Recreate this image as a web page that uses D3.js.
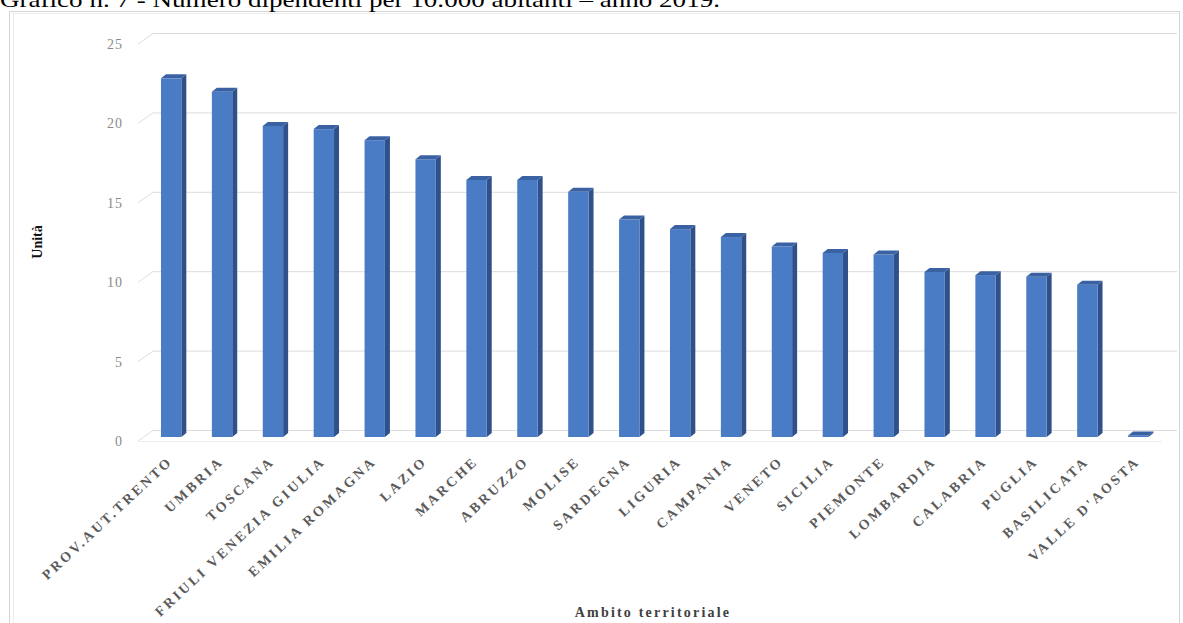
<!DOCTYPE html>
<html><head><meta charset="utf-8">
<script src="https://cdn.jsdelivr.net/npm/d3@7"></script>
<style>
html,body{margin:0;padding:0;background:#fff;}
svg{display:block;}
</style></head>
<body>
<svg id="chart" width="1183" height="623"></svg>
<script>
const titleText = "Grafico n. 7 - Numero dipendenti per 10.000 abitanti – anno 2019.";
const categories = ["PROV.AUT.TRENTO","UMBRIA","TOSCANA","FRIULI VENEZIA GIULIA","EMILIA ROMAGNA","LAZIO","MARCHE","ABRUZZO","MOLISE","SARDEGNA","LIGURIA","CAMPANIA","VENETO","SICILIA","PIEMONTE","LOMBARDIA","CALABRIA","PUGLIA","BASILICATA","VALLE D'AOSTA"];
const values = [22.6,21.75,19.6,19.4,18.7,17.5,16.2,16.2,15.45,13.7,13.1,12.6,12.0,11.6,11.5,10.4,10.2,10.1,9.6,0.1];
const yTicks = [0,5,10,15,20,25];
const yTitle = "Unità";
const xTitle = "Ambito territoriale";

const svg = d3.select("#chart");
const serif = "'Liberation Serif','Times New Roman',serif";

// frame
svg.append("rect").attr("x",9.5).attr("y",11.5).attr("width",1170).attr("height",640)
  .attr("fill","#fff").attr("stroke","#d4d4d4");
svg.append("line").attr("x1",13.5).attr("x2",13.5).attr("y1",13).attr("y2",623).attr("stroke","#ececec");
svg.append("line").attr("x1",12).attr("x2",1178).attr("y1",13.5).attr("y2",13.5).attr("stroke","#ececec");

// title
svg.append("text").attr("x",0).attr("y",7).text(titleText)
  .attr("font-family",serif).attr("font-size",22).attr("fill","#000")
  .attr("textLength",720).attr("lengthAdjust","spacingAndGlyphs");

// scales
const yBack = d3.scaleLinear().domain([0,25]).range([430,33]);
const yBar = d3.scaleLinear().domain([0,25]).range([437,40.25]);
const x = d3.scaleBand().domain(categories).range([145.7,1163.7]).paddingInner(0.6).paddingOuter(0.3);
const depthX = 5, depthY = 4;

// back wall gridlines
svg.append("g").selectAll("line").data(yTicks).join("line")
  .attr("x1",153).attr("x2",1177)
  .attr("y1",d=>yBack(d)+0.5).attr("y2",d=>yBack(d)+0.5)
  .attr("stroke","#dcdcdc").attr("stroke-width",1);
// side wall diagonals
svg.append("g").selectAll("line").data(yTicks).join("line")
  .attr("x1",138).attr("x2",153)
  .attr("y1",d=>yBack(d)+11).attr("y2",d=>yBack(d)+0.5)
  .attr("stroke","#e6dcd2").attr("stroke-width",1);
// floor front edge
svg.append("line").attr("x1",138).attr("x2",1162).attr("y1",441.5).attr("y2",441.5)
  .attr("stroke","#f0ece8").attr("stroke-width",1);

// y tick labels
svg.append("g").selectAll("text").data(yTicks).join("text")
  .attr("x",123).attr("y",d=>yBack(d)+11).attr("dy","0.35em")
  .attr("text-anchor","end").attr("font-family",serif).attr("font-size",14)
  .attr("letter-spacing",1).attr("fill","#8a8a8a").text(d=>d);

// bars
const data = categories.map((c,i)=>({c,v:values[i]}));
const bars = svg.append("g").selectAll("g").data(data).join("g");
const w = x.bandwidth();
bars.append("path").attr("fill","#2f5089").attr("d",d=>{
  const x0=x(d.c)+w, yt=yBar(d.v), yb=437;
  return `M${x0},${yt}L${x0+depthX},${yt-depthY}L${x0+depthX},${yb-depthY}L${x0},${yb}Z`;
});
bars.append("rect").attr("fill","#4a7cc6")
  .attr("x",d=>x(d.c)).attr("y",d=>yBar(d.v)).attr("width",w)
  .attr("height",d=>437-yBar(d.v));
bars.append("path").attr("fill","#3a62a3").attr("d",d=>{
  const x0=x(d.c), yt=yBar(d.v);
  return `M${x0},${yt}L${x0+w},${yt}L${x0+w+depthX},${yt-depthY}L${x0+depthX},${yt-depthY}Z`;
});

// x labels
svg.append("g").selectAll("text").data(categories).join("text")
  .attr("transform",d=>`translate(${x(d)+w/2-1},${459}) rotate(-43)`)
  .attr("dy","0.35em").attr("text-anchor","end")
  .attr("font-family",serif).attr("font-size",14).attr("font-weight","bold")
  .attr("letter-spacing",2.7).attr("fill","#5a5a5a").text(d=>d);

// axis titles
svg.append("text").attr("transform","translate(42,242) rotate(-90)")
  .attr("text-anchor","middle").attr("font-family",serif).attr("font-size",14)
  .attr("font-weight","bold").attr("fill","#111").text(yTitle);
svg.append("text").attr("x",653).attr("y",617).attr("text-anchor","middle")
  .attr("font-family",serif).attr("font-size",14).attr("font-weight","bold")
  .attr("letter-spacing",2.2).attr("fill","#404040").text(xTitle);
</script>
</body></html>
